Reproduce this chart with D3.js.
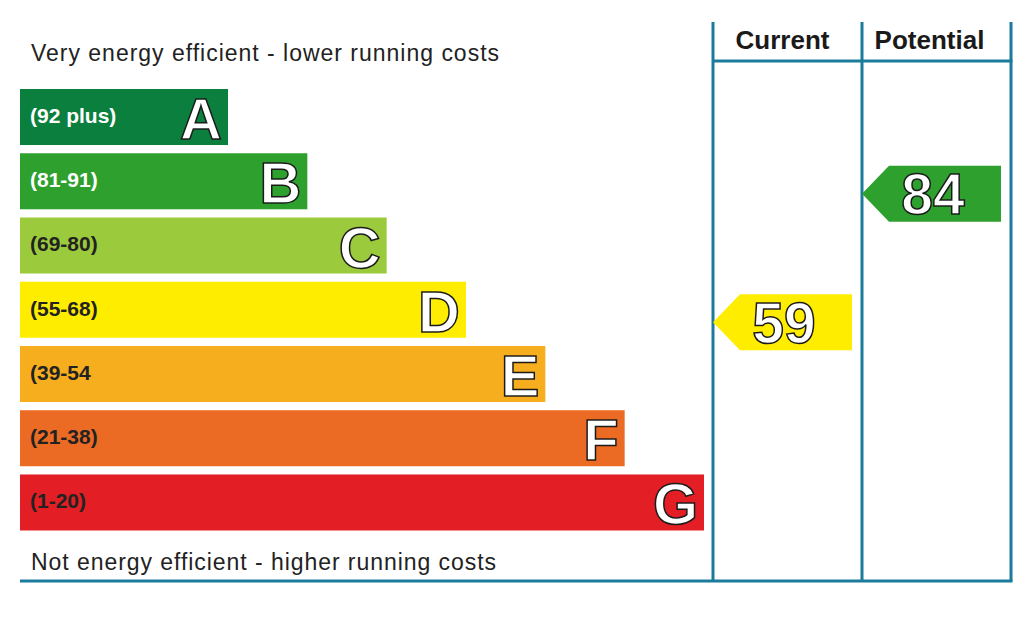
<!DOCTYPE html>
<html lang="en">
<head>
<meta charset="UTF-8">
<title>Energy Efficiency Rating</title>
<style>
  body { margin: 0; background: #fff; }
  svg { display: block; font-family: "Liberation Sans", Arial, sans-serif; }
  .note { font-size: 23px; fill: #222; }
  .range { font-size: 21px; font-weight: bold; }
  .letter { font-size: 58px; font-weight: bold; fill: #fff; stroke: #1a1a1a; stroke-width: 1.5px; text-anchor: end; }
  .head { font-size: 26px; font-weight: bold; fill: #1a1a1a; text-anchor: middle; }
  .score { font-size: 57px; font-weight: bold; fill: #fff; stroke: #1a1a1a; stroke-width: 1.5px; text-anchor: middle; }
  .frame { stroke: #1a7b9b; stroke-width: 3; fill: none; }
</style>
<script src="https://d3js.org/d3.v7.min.js"></script>
</head>
<body>
<script>
// rating bands, top (best) to bottom (worst)
const ratings   = ["A", "B", "C", "D", "E", "F", "G"];
const ranges    = ["(92 plus)", "(81-91)", "(69-80)", "(55-68)", "(39-54", "(21-38)", "(1-20)"];
const minScores = [92, 81, 69, 55, 39, 21, 1];
const colors    = ["#0b7f3e", "#2ea02e", "#9bca3c", "#ffed00", "#f6ae1f", "#ec6b24", "#e31e25"];
const darkText  = [false, false, true, true, true, true, true];

const columns = ["Current", "Potential"];
const scores  = [59, 84];

const topNote    = "Very energy efficient - lower running costs";
const bottomNote = "Not energy efficient - higher running costs";

const w = 1024, h = 640;
const frameTop = 22, headLine = 61, frameBottom = 581, left = 20;

const svg = d3.select("body").append("svg")
    .attr("width", w)
    .attr("height", h);

// vertical band per rating
const y = d3.scaleBand()
    .domain(ratings)
    .range([84.9, 534.6])
    .paddingInner(0.128)
    .paddingOuter(0.064);

// bar right end grows with rating index
const xEnd = d3.scaleLinear()
    .domain([0, ratings.length - 1])
    .range([228, 704]);

// the two score columns
const col = d3.scaleBand()
    .domain(columns)
    .range([713, 1011]);

const rows = ratings.map((r, i) => ({ r, i, range: ranges[i], color: colors[i], dark: darkText[i] }));

const bar = svg.selectAll("g.bar")
    .data(rows)
    .enter()
    .append("g")
    .attr("class", "bar")
    .attr("transform", d => "translate(0," + y(d.r) + ")");

bar.append("rect")
    .attr("x", left)
    .attr("width", d => xEnd(d.i) - left)
    .attr("height", y.bandwidth())
    .attr("fill", d => d.color);

bar.append("text")
    .attr("class", "range")
    .attr("x", left + 10)
    .attr("y", y.bandwidth() / 2 + 6)
    .attr("fill", d => d.dark ? "#222" : "#fff")
    .text(d => d.range);

bar.append("text")
    .attr("class", "letter")
    .attr("x", d => xEnd(d.i) - 6)
    .attr("y", y.bandwidth() / 2 + 22)
    .text(d => d.r);

svg.append("text").attr("class", "note")
    .attr("x", 31).attr("y", 61)
    .attr("textLength", 468).attr("lengthAdjust", "spacing")
    .text(topNote);

svg.append("text").attr("class", "note")
    .attr("x", 31).attr("y", 570)
    .attr("textLength", 465).attr("lengthAdjust", "spacing")
    .text(bottomNote);

// frame
const xs = col.domain().map(c => col(c)).concat([col.range()[1]]);
svg.selectAll("line.v")
    .data(xs)
    .enter()
    .append("line")
    .attr("class", "frame")
    .attr("x1", d => d).attr("x2", d => d)
    .attr("y1", frameTop).attr("y2", frameBottom);

svg.append("line").attr("class", "frame")
    .attr("x1", col.range()[0]).attr("x2", col.range()[1] + 1.5)
    .attr("y1", headLine).attr("y2", headLine);

svg.append("line").attr("class", "frame")
    .attr("x1", left).attr("x2", col.range()[1] + 1.5)
    .attr("y1", frameBottom).attr("y2", frameBottom);

svg.selectAll("text.head")
    .data(columns)
    .enter()
    .append("text")
    .attr("class", "head")
    .attr("x", (d, i) => col(d) + col.bandwidth() / 2 - (i ? 7 : 5))
    .attr("y", 49)
    .text(d => d);

// score arrows
function ratingOf(v) {
    const i = minScores.findIndex(m => v >= m);
    return ratings[i];
}

const arrowW = 139, notch = 27, ah = y.bandwidth(), drop = 12.5;
const arrows = svg.selectAll("g.arrow")
    .data(columns.map((c, i) => ({ c, v: scores[i], r: ratingOf(scores[i]) })))
    .enter()
    .append("g")
    .attr("class", "arrow")
    .attr("transform", d => "translate(" + col(d.c) + "," + (y(d.r) + drop) + ")");

arrows.append("path")
    .attr("d", "M0," + ah / 2 + "L" + notch + ",0H" + arrowW + "V" + ah + "H" + notch + "Z")
    .attr("fill", d => colors[ratings.indexOf(d.r)]);

arrows.append("text")
    .attr("class", "score")
    .attr("x", arrowW / 2 + 1.5)
    .attr("y", ah / 2 + 20.5)
    .text(d => d.v);
</script>
</body>
</html>
